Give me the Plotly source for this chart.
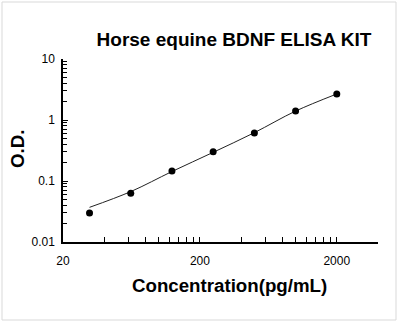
import plotly.graph_objects as go

# Data
conc = [31.25, 62.5, 125, 250, 500, 1000, 2000]
od = [0.030, 0.063, 0.146, 0.302, 0.612, 1.405, 2.67]
curve_x = [31.25, 62.5, 125, 250, 500, 1000, 2000]
curve_y = [0.037, 0.067, 0.143, 0.295, 0.62, 1.40, 2.67]

x_major = [20, 200, 2000]
x_major_text = ["20", "200", "2000"]
x_minor = [40, 60, 80, 100, 120, 140, 160, 180,
           400, 600, 800, 1000, 1200, 1400, 1600, 1800, 4000]
y_major = [0.01, 0.1, 1, 10]
y_major_text = ["0.01", "0.1", "1", "10"]
y_minor = [m * d for d in (0.01, 0.1, 1) for m in range(2, 10)]

W, H = 398, 323
L, R, T, B = 63, 20, 59, 81
pw = W - L - R
ph = H - T - B

fig = go.Figure()
fig.add_trace(go.Scatter(x=curve_x, y=curve_y, mode="lines",
                         line=dict(color="#222222", width=1, shape="spline", smoothing=1.0),
                         hoverinfo="skip", showlegend=False))
fig.add_trace(go.Scatter(x=conc, y=od, mode="markers",
                         marker=dict(color="black", size=7), showlegend=False))

fig.add_shape(type="rect", xref="paper", yref="paper",
              x0=(2 - L) / pw, x1=(396 - L) / pw,
              y0=(H - B - 320) / ph, y1=(H - B - 2) / ph,
              line=dict(color="#d9d9d9", width=1), layer="below")

fig.add_annotation(text="<b>Concentration(pg/mL)</b>", xref="paper", yref="paper",
                   x=(229.5 - L) / pw, y=(H - B - 285) / ph,
                   xanchor="center", yanchor="middle", showarrow=False,
                   font=dict(size=18.7, family="Arial, Liberation Sans", color="black"))
fig.add_annotation(text="<b>O.D.</b>", xref="paper", yref="paper",
                   x=(17 - L) / pw, y=(H - B - 149) / ph, textangle=-90,
                   xanchor="center", yanchor="middle", showarrow=False,
                   font=dict(size=18.7, family="Arial, Liberation Sans", color="black"))

fig.update_layout(
    width=W, height=H,
    margin=dict(l=L, r=R, t=T, b=B),
    paper_bgcolor="white", plot_bgcolor="white",
    font=dict(family="Arial, Liberation Sans", color="black"),
    title=dict(text="<b>Horse equine BDNF ELISA KIT</b>",
               font=dict(size=19, family="Arial, Liberation Sans", color="black"),
               x=234 / W, xanchor="center", y=1 - 39 / H, yanchor="middle"),
    xaxis=dict(type="log", range=[1.30103, 3.60206],
               showline=True, linecolor="black", linewidth=1.5,
               showgrid=False, zeroline=False,
               tickmode="array", tickvals=x_major, ticktext=x_major_text,
               ticks="inside", ticklen=5, tickcolor="black", tickwidth=1,
               tickfont=dict(size=12), ticklabelstandoff=7,
               minor=dict(tickmode="array", tickvals=x_minor, ticks="inside",
                          ticklen=5, tickcolor="black", tickwidth=1, showgrid=False)),
    yaxis=dict(type="log", range=[-2, 1],
               showline=True, linecolor="black", linewidth=1.5,
               showgrid=False, zeroline=False,
               tickmode="array", tickvals=y_major, ticktext=y_major_text,
               ticks="inside", ticklen=5, tickcolor="black", tickwidth=1,
               tickfont=dict(size=12), ticklabelstandoff=4,
               minor=dict(tickmode="array", tickvals=y_minor, ticks="inside",
                          ticklen=4, tickcolor="black", tickwidth=1, showgrid=False)),
)

fig.write_html("out.html")
